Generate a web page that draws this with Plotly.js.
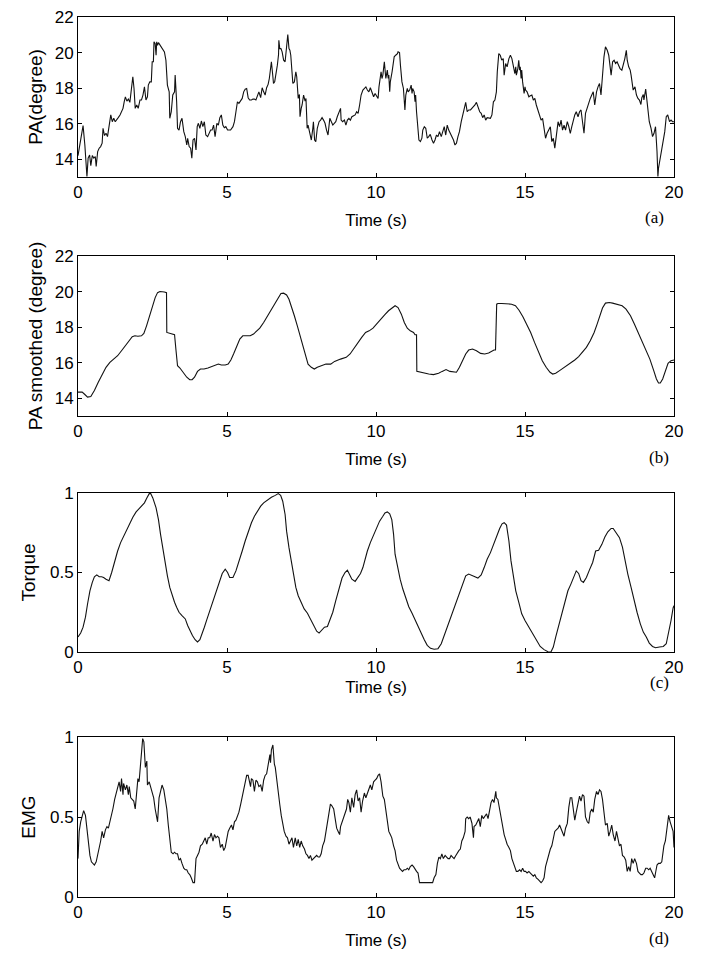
<!DOCTYPE html>
<html><head><meta charset="utf-8">
<script src="https://cdn.plot.ly/plotly-3.0.1.min.js"></script>
<style>html,body{margin:0;padding:0;background:#fff;} #chart{width:705px;height:971px;}</style>
</head><body><div id="chart"></div>
<script>
// ---- data (time in s, value) ----
const timeTicks = [0, 5, 10, 15, 20];
const paTicks = [14, 16, 18, 20, 22];
const unitTicks = [0, 0.5, 1];
const unitTickLabels = ['0', '0.5', '1'];
const xTitleText = 'Time (s)';
const yTitleTexts = ['PA(degree)', 'PA smoothed (degree)', 'Torque', 'EMG'];
const panelTags = ['(a)', '(b)', '(c)', '(d)'];

const paRaw = [[0,14.2],[0.09,15.18],[0.17,15.89],[0.23,14.80],[0.30,13.03],[0.34,14.06],[0.39,14.24],[0.43,13.64],[0.48,14.21],[0.53,14.06],[0.58,14.15],[0.61,13.59],[0.66,14.43],[0.71,14.62],[0.76,14.71],[0.81,14.90],[0.84,15.74],[0.89,15.33],[0.94,15.46],[0.99,15.27],[1.04,15.92],[1.10,16.49],[1.15,16.11],[1.20,16.30],[1.25,16.11],[1.30,16.26],[1.35,16.34],[1.41,16.49],[1.46,16.67],[1.51,16.86],[1.55,17.23],[1.59,17.51],[1.64,17.27],[1.69,17.38],[1.74,17.20],[1.79,17.98],[1.84,18.64],[1.88,17.98],[1.92,16.86],[1.97,17.05],[2.02,16.86],[2.08,17.33],[2.13,17.33],[2.18,17.61],[2.23,18.07],[2.28,17.33],[2.33,17.51],[2.36,18.17],[2.41,18.35],[2.46,18.35],[2.49,19.48],[2.53,19.48],[2.55,20.60],[2.59,20.50],[2.62,19.85],[2.64,20.60],[2.67,20.41],[2.70,20.56],[2.75,20.41],[2.80,20.32],[2.85,20.13],[2.90,20.04],[2.95,19.57],[2.98,18.54],[3.00,18.17],[3.06,17.79],[3.08,16.30],[3.13,16.67],[3.18,17.61],[3.24,17.79],[3.26,18.73],[3.31,17.23],[3.34,15.74],[3.39,15.64],[3.44,16.11],[3.49,16.30],[3.55,15.55],[3.60,15.27],[3.65,14.80],[3.68,15.18],[3.73,14.71],[3.78,14.62],[3.82,14.06],[3.86,15.08],[3.91,15.18],[3.96,14.52],[4.00,15.83],[4.04,16.02],[4.09,15.74],[4.14,16.15],[4.19,15.83],[4.24,16.11],[4.29,15.36],[4.35,15.27],[4.40,15.46],[4.45,15.64],[4.50,15.64],[4.55,15.92],[4.60,15.27],[4.66,16.02],[4.71,15.92],[4.76,16.34],[4.81,16.49],[4.86,15.92],[4.91,15.77],[4.96,15.83],[5.02,15.64],[5.07,15.64],[5.12,15.64],[5.20,15.83],[5.25,16.11],[5.30,16.67],[5.35,17.23],[5.40,17.14],[5.45,17.27],[5.51,17.42],[5.56,17.79],[5.61,17.94],[5.66,17.98],[5.71,17.46],[5.76,17.33],[5.82,17.33],[5.87,17.38],[5.92,17.38],[5.97,17.33],[6.02,17.57],[6.07,17.79],[6.13,17.46],[6.18,18.02],[6.23,17.79],[6.28,17.61],[6.33,18.02],[6.38,18.21],[6.42,18.54],[6.46,19.29],[6.49,19.48],[6.54,18.64],[6.56,18.26],[6.60,18.35],[6.64,18.73],[6.69,19.29],[6.73,19.89],[6.74,20.69],[6.77,20.22],[6.81,20.22],[6.85,20.04],[6.90,19.57],[6.95,19.48],[7.00,20.50],[7.04,21.01],[7.08,20.22],[7.11,20.13],[7.14,19.85],[7.18,18.54],[7.21,18.26],[7.26,18.35],[7.31,18.92],[7.34,18.64],[7.39,17.42],[7.43,17.64],[7.45,16.39],[7.49,16.86],[7.52,17.05],[7.57,17.61],[7.62,17.27],[7.65,17.42],[7.69,15.74],[7.72,15.92],[7.78,15.46],[7.83,15.08],[7.88,15.74],[7.90,16.11],[7.94,15.08],[7.98,14.99],[8.03,15.74],[8.09,16.11],[8.14,16.20],[8.19,16.34],[8.24,16.20],[8.29,16.02],[8.34,15.64],[8.39,15.36],[8.45,16.30],[8.50,16.11],[8.55,15.92],[8.60,16.02],[8.65,16.11],[8.70,16.39],[8.76,16.67],[8.81,16.86],[8.83,16.20],[8.88,16.11],[8.94,16.20],[8.99,15.92],[9.04,16.20],[9.09,16.30],[9.14,16.20],[9.19,16.39],[9.25,16.45],[9.30,16.49],[9.35,16.67],[9.40,16.58],[9.45,17.05],[9.50,17.61],[9.56,17.89],[9.61,17.98],[9.66,18.07],[9.71,17.89],[9.76,17.79],[9.81,18.02],[9.86,17.79],[9.92,17.51],[9.97,17.70],[10.02,17.51],[10.07,17.42],[10.10,18.07],[10.15,18.54],[10.17,18.92],[10.20,18.54],[10.23,18.73],[10.28,19.48],[10.30,19.20],[10.33,18.54],[10.35,18.73],[10.38,19.01],[10.41,18.54],[10.43,18.73],[10.46,17.79],[10.48,18.35],[10.54,18.92],[10.56,19.29],[10.59,19.57],[10.61,19.76],[10.66,19.85],[10.72,19.94],[10.74,20.04],[10.79,20.00],[10.82,19.29],[10.87,18.35],[10.92,17.98],[10.95,17.42],[10.97,16.77],[11.00,17.61],[11.05,17.98],[11.08,17.79],[11.13,17.89],[11.18,18.17],[11.21,17.70],[11.23,17.98],[11.28,17.79],[11.31,17.23],[11.33,17.61],[11.36,16.67],[11.39,15.92],[11.44,15.08],[11.49,14.99],[11.54,15.18],[11.57,15.64],[11.62,15.83],[11.67,15.74],[11.72,15.18],[11.77,15.27],[11.82,15.40],[11.88,15.08],[11.93,14.90],[11.98,15.08],[12.03,15.36],[12.08,15.27],[12.13,15.55],[12.19,15.27],[12.24,15.64],[12.29,15.83],[12.34,15.36],[12.39,15.92],[12.44,15.64],[12.50,15.46],[12.55,15.27],[12.60,15.08],[12.65,14.80],[12.70,14.90],[12.75,15.27],[12.80,15.55],[12.86,16.11],[12.91,16.49],[12.96,16.86],[13.01,17.20],[13.06,16.67],[13.11,16.77],[13.17,16.77],[13.22,16.86],[13.27,16.95],[13.32,17.05],[13.37,17.20],[13.42,16.95],[13.48,16.67],[13.53,16.58],[13.58,16.34],[13.63,16.49],[13.68,16.20],[13.73,16.34],[13.78,16.34],[13.84,16.30],[13.89,16.49],[13.94,17.23],[13.99,17.33],[14.04,17.79],[14.07,18.92],[14.09,19.48],[14.12,19.94],[14.17,19.85],[14.22,19.57],[14.27,19.66],[14.30,18.73],[14.35,19.38],[14.40,19.20],[14.46,19.66],[14.51,19.85],[14.56,19.66],[14.61,19.29],[14.66,18.82],[14.69,19.20],[14.71,18.73],[14.76,19.10],[14.79,19.57],[14.82,19.01],[14.84,19.20],[14.87,18.54],[14.89,19.01],[14.92,18.35],[14.97,17.70],[15.00,18.07],[15.02,17.89],[15.07,17.79],[15.13,17.51],[15.18,17.57],[15.23,17.61],[15.28,17.33],[15.33,17.42],[15.38,17.05],[15.44,16.67],[15.49,16.49],[15.54,16.20],[15.59,16.30],[15.64,15.83],[15.69,15.18],[15.74,15.46],[15.80,15.64],[15.85,15.83],[15.90,14.99],[15.95,15.18],[16.00,14.62],[16.05,15.46],[16.11,16.11],[16.16,15.83],[16.21,16.20],[16.26,15.64],[16.31,15.92],[16.36,15.64],[16.42,16.11],[16.47,15.83],[16.52,15.46],[16.57,15.83],[16.62,16.20],[16.67,16.49],[16.72,16.67],[16.78,16.39],[16.83,16.67],[16.88,16.77],[16.93,16.11],[16.98,15.46],[17.03,16.58],[17.09,16.95],[17.14,17.14],[17.19,17.42],[17.24,17.61],[17.29,17.79],[17.34,17.05],[17.40,17.79],[17.45,18.07],[17.50,18.26],[17.55,17.61],[17.60,18.92],[17.65,19.76],[17.70,20.32],[17.76,20.13],[17.81,19.85],[17.86,19.20],[17.89,18.73],[17.94,19.48],[17.99,19.57],[18.04,19.38],[18.09,19.48],[18.14,19.29],[18.19,19.10],[18.25,19.01],[18.30,19.29],[18.35,19.66],[18.40,20.13],[18.43,19.57],[18.48,19.20],[18.53,19.01],[18.56,18.73],[18.61,18.26],[18.63,17.89],[18.69,18.07],[18.74,17.61],[18.79,17.42],[18.84,17.33],[18.89,17.08],[18.92,17.46],[18.97,17.64],[18.99,17.33],[19.05,17.94],[19.10,17.23],[19.12,16.67],[19.17,16.11],[19.23,15.74],[19.28,15.27],[19.33,15.46],[19.38,15.83],[19.43,14.43],[19.46,13.03],[19.48,13.49],[19.54,14.06],[19.59,14.43],[19.64,14.99],[19.69,15.55],[19.74,16.39],[19.79,16.49],[19.85,16.11],[19.90,16.20],[19.95,16.11],[20.00,16.11]];

const paSmoothed = [[0,14.34],[0.14,14.34],[0.23,14.21],[0.32,14.06],[0.43,14.09],[0.55,14.43],[0.68,14.90],[0.81,15.36],[0.94,15.74],[1.07,16.02],[1.20,16.20],[1.33,16.39],[1.46,16.67],[1.59,16.95],[1.72,17.27],[1.82,17.46],[1.91,17.51],[2.01,17.49],[2.13,17.51],[2.21,17.64],[2.30,18.07],[2.39,18.54],[2.46,18.92],[2.54,19.29],[2.59,19.66],[2.67,19.94],[2.75,20.00],[2.90,19.98],[2.97,19.94],[2.98,17.70],[3.11,17.64],[3.24,17.57],[3.29,16.67],[3.34,15.83],[3.42,15.70],[3.52,15.46],[3.65,15.18],[3.75,15.04],[3.83,15.04],[3.91,15.18],[4.01,15.51],[4.11,15.64],[4.23,15.64],[4.36,15.70],[4.49,15.77],[4.62,15.83],[4.71,15.92],[4.81,15.87],[4.94,15.87],[5.04,15.92],[5.13,16.15],[5.22,16.49],[5.33,16.95],[5.43,17.33],[5.53,17.51],[5.65,17.51],[5.78,17.51],[5.89,17.61],[6.00,17.76],[6.10,17.94],[6.23,18.26],[6.36,18.64],[6.49,19.01],[6.62,19.38],[6.72,19.70],[6.81,19.89],[6.90,19.91],[7.00,19.81],[7.08,19.57],[7.16,19.20],[7.26,18.64],[7.36,18.07],[7.47,17.42],[7.57,16.77],[7.65,16.30],[7.72,15.92],[7.83,15.74],[7.93,15.64],[8.03,15.74],[8.16,15.83],[8.32,15.92],[8.48,15.92],[8.61,16.07],[8.81,16.20],[9.00,16.30],[9.13,16.49],[9.26,16.82],[9.39,17.14],[9.52,17.42],[9.65,17.70],[9.77,17.79],[9.90,17.94],[10.03,18.21],[10.16,18.45],[10.29,18.69],[10.42,18.92],[10.55,19.10],[10.64,19.20],[10.74,19.10],[10.85,18.73],[10.95,18.26],[11.05,17.94],[11.15,17.79],[11.26,17.70],[11.31,17.57],[11.36,17.57],[11.37,15.51],[11.49,15.46],[11.64,15.44],[11.77,15.36],[11.93,15.33],[12.10,15.40],[12.22,15.51],[12.35,15.61],[12.48,15.51],[12.61,15.46],[12.70,15.46],[12.80,15.74],[12.91,16.11],[13.01,16.49],[13.11,16.71],[13.24,16.77],[13.37,16.67],[13.51,16.52],[13.65,16.49],[13.78,16.54],[13.96,16.71],[14.01,16.71],[14.05,19.29],[14.09,19.33],[14.22,19.33],[14.38,19.33],[14.55,19.29],[14.68,19.20],[14.80,18.95],[14.93,18.58],[15.06,18.17],[15.19,17.70],[15.32,17.14],[15.45,16.58],[15.58,16.11],[15.71,15.74],[15.84,15.46],[15.93,15.36],[16.03,15.40],[16.16,15.55],[16.29,15.70],[16.42,15.83],[16.54,15.96],[16.67,16.15],[16.80,16.34],[16.93,16.58],[17.06,16.86],[17.19,17.23],[17.32,17.70],[17.42,18.17],[17.52,18.64],[17.60,19.07],[17.70,19.35],[17.83,19.38],[17.94,19.35],[18.10,19.29],[18.26,19.20],[18.39,19.01],[18.54,18.64],[18.67,18.17],[18.80,17.70],[18.93,17.23],[19.06,16.77],[19.19,16.20],[19.32,15.55],[19.41,15.08],[19.48,14.86],[19.54,14.86],[19.62,15.08],[19.71,15.55],[19.80,15.96],[19.90,16.11],[20.00,16.15]];

const torque = [[0,0.094],[0.09,0.119],[0.17,0.156],[0.25,0.219],[0.32,0.302],[0.40,0.385],[0.48,0.438],[0.55,0.473],[0.63,0.485],[0.71,0.473],[0.79,0.473],[0.86,0.469],[0.94,0.458],[1.04,0.448],[1.13,0.500],[1.22,0.569],[1.33,0.635],[1.43,0.688],[1.53,0.729],[1.64,0.771],[1.74,0.813],[1.84,0.848],[1.95,0.881],[2.05,0.902],[2.15,0.917],[2.23,0.938],[2.31,0.969],[2.39,0.996],[2.44,0.996],[2.51,0.969],[2.62,0.906],[2.70,0.833],[2.77,0.740],[2.85,0.646],[2.93,0.552],[3.00,0.479],[3.08,0.406],[3.16,0.354],[3.24,0.313],[3.31,0.281],[3.39,0.250],[3.49,0.229],[3.60,0.208],[3.68,0.167],[3.75,0.135],[3.84,0.104],[3.93,0.077],[4.01,0.063],[4.09,0.077],[4.17,0.115],[4.24,0.156],[4.32,0.202],[4.42,0.260],[4.53,0.327],[4.63,0.385],[4.73,0.444],[4.84,0.494],[4.94,0.521],[5.02,0.500],[5.09,0.469],[5.20,0.469],[5.30,0.510],[5.40,0.577],[5.51,0.635],[5.61,0.698],[5.71,0.760],[5.82,0.813],[5.92,0.854],[6.02,0.885],[6.13,0.917],[6.23,0.938],[6.36,0.958],[6.49,0.973],[6.62,0.985],[6.72,0.996],[6.80,0.985],[6.87,0.948],[6.95,0.865],[7.00,0.760],[7.08,0.656],[7.16,0.573],[7.23,0.479],[7.31,0.406],[7.39,0.354],[7.49,0.313],[7.59,0.271],[7.70,0.244],[7.80,0.208],[7.90,0.167],[8.01,0.131],[8.09,0.119],[8.16,0.131],[8.27,0.156],[8.37,0.160],[8.45,0.198],[8.55,0.250],[8.65,0.323],[8.76,0.406],[8.86,0.465],[8.96,0.500],[9.04,0.515],[9.12,0.485],[9.19,0.458],[9.30,0.444],[9.40,0.469],[9.48,0.494],[9.56,0.531],[9.63,0.583],[9.71,0.635],[9.81,0.688],[9.92,0.740],[10.02,0.785],[10.12,0.823],[10.23,0.854],[10.30,0.875],[10.38,0.881],[10.46,0.869],[10.53,0.833],[10.59,0.740],[10.64,0.615],[10.72,0.531],[10.81,0.458],[10.90,0.396],[11.00,0.333],[11.10,0.285],[11.21,0.244],[11.31,0.202],[11.41,0.160],[11.52,0.119],[11.62,0.077],[11.72,0.042],[11.83,0.023],[11.95,0.017],[12.08,0.021],[12.19,0.052],[12.29,0.104],[12.39,0.156],[12.50,0.215],[12.60,0.271],[12.70,0.327],[12.80,0.381],[12.91,0.431],[13.01,0.479],[13.11,0.490],[13.22,0.479],[13.32,0.473],[13.42,0.465],[13.53,0.485],[13.63,0.531],[13.73,0.583],[13.84,0.625],[13.94,0.677],[14.04,0.729],[14.15,0.777],[14.23,0.806],[14.30,0.813],[14.38,0.798],[14.46,0.698],[14.53,0.573],[14.61,0.469],[14.69,0.385],[14.79,0.313],[14.89,0.240],[15.00,0.198],[15.13,0.156],[15.25,0.115],[15.38,0.073],[15.51,0.035],[15.64,0.015],[15.77,0.002],[15.87,0.000],[15.95,0.031],[16.03,0.094],[16.13,0.167],[16.23,0.240],[16.34,0.313],[16.44,0.385],[16.54,0.427],[16.65,0.473],[16.72,0.510],[16.80,0.494],[16.88,0.448],[16.96,0.438],[17.06,0.469],[17.16,0.515],[17.27,0.563],[17.37,0.635],[17.47,0.640],[17.58,0.677],[17.68,0.723],[17.78,0.756],[17.89,0.777],[17.96,0.777],[18.07,0.750],[18.17,0.719],[18.27,0.660],[18.35,0.583],[18.45,0.490],[18.56,0.406],[18.66,0.323],[18.76,0.250],[18.87,0.177],[18.97,0.125],[19.07,0.094],[19.17,0.056],[19.28,0.035],[19.38,0.027],[19.51,0.031],[19.64,0.035],[19.74,0.052],[19.82,0.115],[19.90,0.198],[19.97,0.277],[20.00,0.292]];

const emg = [[0,0.24],[0.04,0.41],[0.09,0.47],[0.14,0.51],[0.19,0.54],[0.25,0.51],[0.30,0.43],[0.35,0.32],[0.40,0.26],[0.45,0.22],[0.50,0.21],[0.55,0.20],[0.61,0.22],[0.66,0.26],[0.71,0.30],[0.76,0.35],[0.81,0.41],[0.86,0.37],[0.92,0.42],[0.97,0.44],[1.02,0.43],[1.07,0.47],[1.12,0.50],[1.17,0.55],[1.23,0.61],[1.28,0.65],[1.33,0.68],[1.38,0.72],[1.43,0.66],[1.46,0.74],[1.51,0.64],[1.53,0.71],[1.59,0.67],[1.64,0.70],[1.69,0.64],[1.72,0.69],[1.77,0.62],[1.82,0.61],[1.87,0.60],[1.92,0.55],[1.97,0.66],[2.01,0.74],[2.05,0.72],[2.10,0.83],[2.14,0.91],[2.17,0.99],[2.21,0.97],[2.23,0.89],[2.26,0.81],[2.31,0.85],[2.33,0.70],[2.39,0.72],[2.44,0.69],[2.49,0.66],[2.54,0.62],[2.59,0.55],[2.64,0.48],[2.67,0.47],[2.72,0.62],[2.77,0.67],[2.82,0.70],[2.88,0.67],[2.93,0.62],[2.98,0.55],[3.03,0.45],[3.08,0.35],[3.13,0.28],[3.19,0.27],[3.24,0.28],[3.29,0.27],[3.34,0.27],[3.39,0.23],[3.44,0.24],[3.49,0.21],[3.55,0.18],[3.60,0.17],[3.65,0.17],[3.70,0.15],[3.75,0.14],[3.80,0.12],[3.86,0.09],[3.91,0.09],[3.96,0.24],[4.01,0.26],[4.06,0.28],[4.11,0.32],[4.17,0.33],[4.22,0.35],[4.27,0.37],[4.32,0.33],[4.37,0.37],[4.42,0.37],[4.47,0.40],[4.53,0.35],[4.58,0.39],[4.63,0.37],[4.68,0.38],[4.73,0.37],[4.78,0.31],[4.84,0.33],[4.89,0.29],[4.94,0.31],[4.99,0.37],[5.04,0.41],[5.09,0.43],[5.15,0.45],[5.20,0.42],[5.25,0.47],[5.30,0.48],[5.35,0.50],[5.40,0.53],[5.46,0.58],[5.51,0.62],[5.56,0.67],[5.61,0.72],[5.66,0.76],[5.71,0.76],[5.74,0.74],[5.79,0.69],[5.82,0.74],[5.87,0.73],[5.92,0.66],[5.97,0.73],[6.02,0.72],[6.07,0.69],[6.13,0.70],[6.18,0.66],[6.23,0.73],[6.28,0.76],[6.33,0.77],[6.38,0.83],[6.44,0.89],[6.46,0.84],[6.49,0.92],[6.54,0.95],[6.56,0.87],[6.59,0.83],[6.62,0.81],[6.67,0.72],[6.72,0.67],[6.77,0.58],[6.82,0.51],[6.87,0.45],[6.92,0.41],[6.98,0.38],[7.03,0.37],[7.08,0.33],[7.13,0.35],[7.18,0.37],[7.23,0.31],[7.29,0.37],[7.34,0.32],[7.39,0.36],[7.44,0.31],[7.49,0.35],[7.54,0.32],[7.60,0.30],[7.65,0.27],[7.70,0.26],[7.75,0.24],[7.80,0.26],[7.85,0.23],[7.90,0.24],[7.96,0.25],[8.01,0.26],[8.06,0.25],[8.11,0.25],[8.16,0.27],[8.21,0.32],[8.27,0.35],[8.32,0.41],[8.37,0.47],[8.42,0.54],[8.47,0.58],[8.52,0.57],[8.58,0.55],[8.63,0.49],[8.68,0.43],[8.73,0.41],[8.78,0.39],[8.81,0.44],[8.86,0.47],[8.91,0.50],[8.96,0.53],[9.01,0.55],[9.05,0.61],[9.09,0.59],[9.14,0.53],[9.19,0.62],[9.25,0.56],[9.30,0.64],[9.35,0.67],[9.40,0.60],[9.45,0.62],[9.50,0.53],[9.55,0.60],[9.61,0.65],[9.66,0.62],[9.71,0.65],[9.76,0.68],[9.81,0.70],[9.86,0.67],[9.92,0.72],[9.97,0.73],[10.02,0.74],[10.07,0.76],[10.12,0.77],[10.17,0.72],[10.23,0.63],[10.28,0.61],[10.33,0.55],[10.38,0.49],[10.43,0.41],[10.48,0.39],[10.53,0.37],[10.59,0.32],[10.64,0.29],[10.69,0.23],[10.74,0.20],[10.79,0.18],[10.84,0.17],[10.89,0.16],[10.94,0.17],[11.00,0.17],[11.05,0.18],[11.10,0.17],[11.15,0.19],[11.21,0.20],[11.26,0.19],[11.31,0.17],[11.36,0.16],[11.41,0.15],[11.46,0.09],[11.52,0.09],[11.64,0.09],[11.77,0.09],[11.90,0.09],[11.95,0.12],[12.01,0.14],[12.06,0.21],[12.11,0.25],[12.16,0.24],[12.21,0.27],[12.26,0.24],[12.32,0.26],[12.37,0.25],[12.42,0.24],[12.47,0.24],[12.52,0.26],[12.57,0.25],[12.62,0.24],[12.68,0.26],[12.73,0.28],[12.78,0.29],[12.83,0.30],[12.88,0.35],[12.93,0.37],[12.99,0.41],[13.01,0.49],[13.06,0.50],[13.11,0.49],[13.16,0.50],[13.22,0.46],[13.27,0.37],[13.29,0.44],[13.35,0.45],[13.40,0.47],[13.45,0.49],[13.50,0.44],[13.55,0.51],[13.60,0.49],[13.66,0.51],[13.71,0.52],[13.76,0.49],[13.81,0.54],[13.86,0.59],[13.91,0.61],[13.96,0.59],[14.02,0.66],[14.04,0.62],[14.09,0.61],[14.15,0.54],[14.20,0.48],[14.25,0.43],[14.30,0.39],[14.35,0.36],[14.40,0.33],[14.46,0.31],[14.51,0.29],[14.56,0.24],[14.61,0.21],[14.66,0.18],[14.71,0.16],[14.76,0.16],[14.82,0.17],[14.87,0.16],[14.92,0.18],[14.97,0.16],[15.02,0.16],[15.07,0.15],[15.13,0.16],[15.18,0.15],[15.23,0.14],[15.28,0.13],[15.33,0.14],[15.38,0.12],[15.44,0.11],[15.49,0.10],[15.54,0.09],[15.59,0.10],[15.64,0.12],[15.69,0.19],[15.74,0.23],[15.80,0.26],[15.85,0.30],[15.90,0.32],[15.95,0.37],[16.00,0.41],[16.05,0.42],[16.11,0.43],[16.16,0.45],[16.21,0.43],[16.26,0.41],[16.31,0.38],[16.36,0.43],[16.42,0.46],[16.47,0.56],[16.52,0.62],[16.57,0.62],[16.62,0.55],[16.67,0.48],[16.72,0.53],[16.78,0.60],[16.83,0.63],[16.88,0.60],[16.93,0.64],[16.98,0.63],[17.03,0.50],[17.09,0.47],[17.14,0.46],[17.19,0.53],[17.24,0.55],[17.29,0.53],[17.34,0.61],[17.40,0.66],[17.45,0.64],[17.50,0.67],[17.55,0.66],[17.60,0.61],[17.65,0.51],[17.70,0.45],[17.76,0.46],[17.81,0.38],[17.86,0.41],[17.91,0.45],[17.96,0.39],[18.02,0.35],[18.07,0.41],[18.12,0.37],[18.17,0.32],[18.22,0.33],[18.27,0.26],[18.33,0.25],[18.38,0.23],[18.43,0.16],[18.48,0.19],[18.53,0.16],[18.58,0.24],[18.63,0.21],[18.68,0.24],[18.74,0.21],[18.79,0.16],[18.84,0.15],[18.89,0.14],[18.94,0.14],[18.99,0.15],[19.05,0.18],[19.10,0.18],[19.15,0.17],[19.20,0.18],[19.25,0.16],[19.30,0.14],[19.35,0.12],[19.38,0.15],[19.43,0.20],[19.48,0.21],[19.54,0.21],[19.59,0.22],[19.64,0.30],[19.66,0.32],[19.71,0.35],[19.77,0.45],[19.82,0.51],[19.87,0.47],[19.92,0.43],[19.97,0.41],[20.00,0.31]];

// ---- drawing ----
const series = [paRaw, paSmoothed, torque, emg];
const yRanges = [[13, 22], [13, 22], [0, 1], [0, 1]];
const domains = [[0.8182, 1], [0.5466, 0.7284], [0.2784, 0.4591], [0, 0.1818]];
const xTitleStandoff = [12, 12, 4, 12];
const yTitleStandoff = [7, 7, 9, 9];
const tagPos = [[0.968, 0.7727], [0.975, 0.4989], [0.976, 0.2443], [0.975, -0.0466]];

const sansFont = 'Liberation Sans, Arial, sans-serif';
const lineColor = '#111111';

const traces = series.map((s, i) => ({
  type: 'scatter', mode: 'lines',
  x: s.map(p => p[0]), y: s.map(p => p[1]),
  xaxis: i ? 'x' + (i + 1) : 'x', yaxis: i ? 'y' + (i + 1) : 'y',
  line: {color: lineColor, width: 1.1},
  hoverinfo: 'skip', showlegend: false
}));

const layout = {
  width: 705, height: 971,
  margin: {l: 78, r: 31, t: 17, b: 74, pad: 0},
  paper_bgcolor: '#ffffff', plot_bgcolor: '#ffffff',
  showlegend: false,
  font: {family: sansFont, size: 17, color: '#000'},
  annotations: []
};

for (let i = 0; i < 4; i++) {
  const sx = i ? String(i + 1) : '';
  const common = {
    showline: true, linecolor: '#000', linewidth: 1, mirror: 'allticks',
    ticks: 'inside', ticklen: 4, tickwidth: 1, tickcolor: '#000',
    showgrid: false, zeroline: false, fixedrange: true,
    tickfont: {family: sansFont, size: 17, color: '#000'}
  };
  layout['xaxis' + sx] = Object.assign({}, common, {
    domain: [0, 1], anchor: 'y' + sx, range: [0, 20],
    tickmode: 'array', tickvals: timeTicks, ticktext: timeTicks.map(String),
    title: {text: xTitleText, font: {family: sansFont, size: 17, color: '#000'}, standoff: xTitleStandoff[i]}
  });
  const isPA = i < 2;
  layout['yaxis' + sx] = Object.assign({}, common, {
    domain: domains[i], anchor: 'x' + sx, range: yRanges[i],
    tickmode: 'array',
    tickvals: isPA ? paTicks : unitTicks,
    ticktext: isPA ? paTicks.map(String) : unitTickLabels,
    title: {text: yTitleTexts[i], font: {family: sansFont, size: 19, color: '#000'}, standoff: yTitleStandoff[i]}
  });
  layout.annotations.push({
    xref: 'paper', yref: 'paper', x: tagPos[i][0], y: tagPos[i][1],
    xanchor: 'center', yanchor: 'middle', showarrow: false,
    text: panelTags[i],
    font: {family: 'Liberation Serif, Times New Roman, serif', size: 17, color: '#000'}
  });
}

Plotly.newPlot('chart', traces, layout, {displayModeBar: false, staticPlot: true});
</script>
</body></html>
